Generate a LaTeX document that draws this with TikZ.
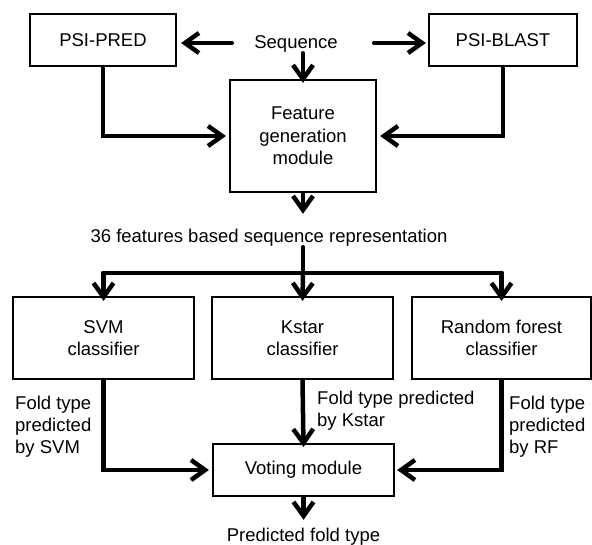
\documentclass[tikz,border=0pt]{standalone}
\usepackage{fontspec}
\setmainfont{Liberation Sans}
\usetikzlibrary{arrows.meta}

\tikzset{
  blk/.style={draw, line width=2.2pt, rectangle, inner sep=0pt, align=center,
    font=\fontsize{18.5}{22.5}\selectfont},
  plain/.style={inner sep=0pt, font=\fontsize{18.5}{22}\selectfont},
  lbl/.style={inner sep=0pt, align=left, anchor=north west,
    font=\fontsize{18.5}{22}\selectfont},
  conn/.style={line width=4.5pt, line cap=round, line join=miter},
  arr/.style={conn, -{Straight Barb[length=14pt,width=20pt]}},
}

\begin{document}
\begin{tikzpicture}[x=1pt, y=-1pt]
\useasboundingbox (0,0) rectangle (592,545);

% input tools and feature generation
\node[blk, minimum width=146pt, minimum height=52pt] (psipred) at (103,40) {PSI-PRED};
\node[blk, minimum width=148pt, minimum height=52pt] (psiblast) at (503,40) {PSI-BLAST};
\node[plain, anchor=base, minimum width=142pt, text height=16pt, text depth=4pt]
  (seq) at (303,49) {Sequence\hspace*{14pt}};
\node[blk, minimum width=146pt, minimum height=112pt] (feat) at (303,136)
  {Feature\\generation\\module};

% feature vector
\node[plain, anchor=base, text height=29pt, text depth=4pt] (rep) at (269,243)
  {36 features based sequence representation};
\coordinate (bus) at (303,273);

% classifiers
\node[blk, minimum width=181pt, minimum height=82pt] (svm) at (103.5,338) {SVM\\classifier};
\node[blk, minimum width=181pt, minimum height=82pt] (kstar) at (302.5,338) {Kstar\\classifier};
\node[blk, minimum width=179pt, minimum height=82pt] (rf) at (501.5,338) {Random forest\\classifier};

% voting and output
\node[blk, minimum width=181pt, minimum height=52pt] (vote) at (303.5,470) {Voting module};
\node[plain, anchor=base, text height=21pt] (pred) at (303.5,541) {Predicted fold type};

% classifier output labels
\node[lbl] (lsvm) at (15,395.5) {Fold type\\predicted\\by SVM};
\node[lbl] (lkstar) at (317,390.5) {Fold type predicted\\by Kstar};
\node[lbl] (lrf) at (509,395.5) {Fold type\\predicted\\by RF};

% connectors: top part
\draw[arr] (seq.west) -- ([xshift=4pt]psipred.east |- seq.west);
\draw[arr] (seq.east) -- ([xshift=-2pt]psiblast.west |- seq.east);
\draw[arr] (seq.south) -- ([yshift=-4pt]feat.north);
\draw[arr] (psipred.south) |- ([xshift=-3pt]feat.west);
\draw[arr] (psiblast.south) |- ([xshift=3pt]feat.east);

% connectors: feature vector to classifiers
\draw[arr] (feat.south) -- (feat.south |- rep.north);
\draw[conn] (rep.south -| bus) -- (bus);
\draw[conn] (svm.north |- bus) -- (rf.north |- bus);
\draw[arr] (svm.north |- bus) -- ([yshift=-5pt]svm.north);
\draw[arr] (bus) -- ([yshift=-5pt]kstar.north);
\draw[arr] (rf.north |- bus) -- ([yshift=-5pt]rf.north);

% connectors: classifiers to voting
\draw[arr] (svm.south) |- ([xshift=-3pt]vote.west);
\draw[arr] (kstar.south) -- ([yshift=-4pt]vote.north);
\draw[arr] (rf.south) |- ([xshift=2pt]vote.east);
\draw[arr] (vote.south) -- (pred.north);
\end{tikzpicture}
\end{document}
